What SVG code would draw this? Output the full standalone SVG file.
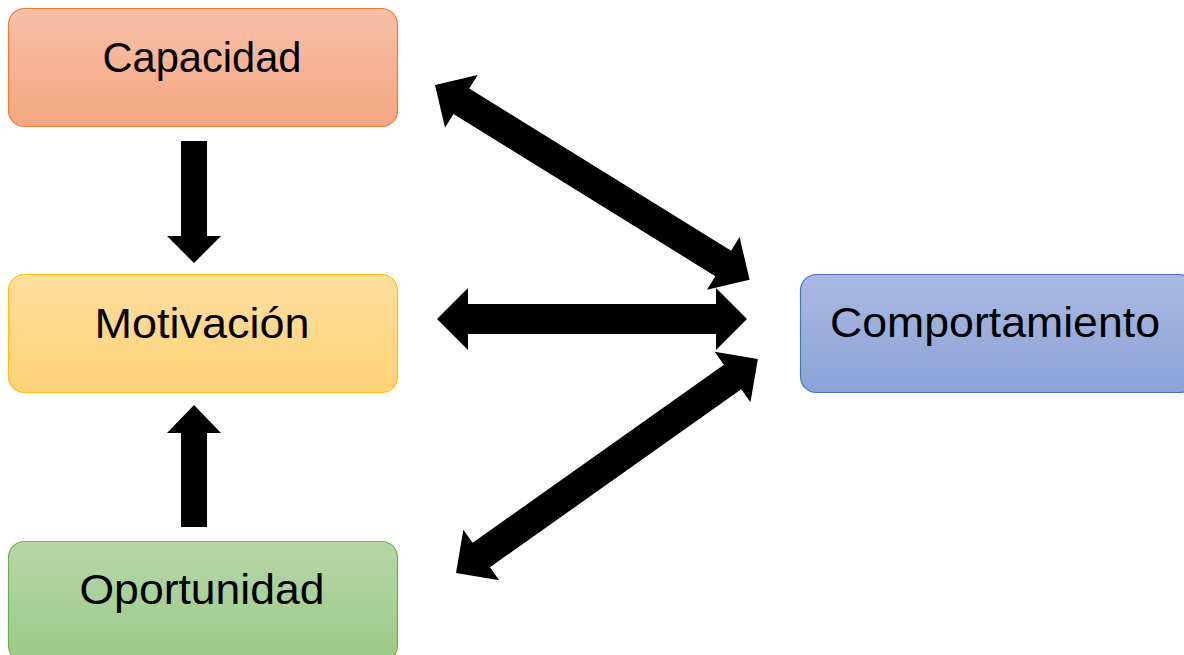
<svg xmlns="http://www.w3.org/2000/svg" width="1184" height="655" viewBox="0 0 1184 655">
<defs>
<linearGradient id="gCap" x1="0" y1="0" x2="0" y2="1"><stop offset="0" stop-color="#F8C0A8"/><stop offset="1" stop-color="#F4A680"/></linearGradient>
<linearGradient id="gMot" x1="0" y1="0" x2="0" y2="1"><stop offset="0" stop-color="#FFDE9C"/><stop offset="1" stop-color="#FFD279"/></linearGradient>
<linearGradient id="gOpo" x1="0" y1="0" x2="0" y2="1"><stop offset="0" stop-color="#B6D7A8"/><stop offset="1" stop-color="#9BCA86"/></linearGradient>
<linearGradient id="gCom" x1="0" y1="0" x2="0" y2="1"><stop offset="0" stop-color="#AAB9E1"/><stop offset="1" stop-color="#8AA3D7"/></linearGradient>
<style>
.lbl{font-family:"Liberation Sans",Arial,sans-serif;font-size:42px;fill:#000;text-anchor:middle}
.arr{fill:#000}
</style>
</defs>
<g id="capacidad"><rect x="8.5" y="8.5" width="389" height="118" rx="16" fill="url(#gCap)" stroke="#ED7D31" stroke-width="1.2"/><text class="lbl" x="202" y="72" textLength="199" lengthAdjust="spacingAndGlyphs">Capacidad</text></g>
<g id="motivacion"><rect x="8.5" y="274.5" width="389" height="118" rx="16" fill="url(#gMot)" stroke="#FFC000" stroke-width="1.2"/><text class="lbl" x="202" y="338" textLength="215" lengthAdjust="spacingAndGlyphs">Motivación</text></g>
<g id="oportunidad"><rect x="8.5" y="541.5" width="389" height="120" rx="16" fill="url(#gOpo)" stroke="#70AD47" stroke-width="1.2"/><text class="lbl" x="202" y="604" textLength="245" lengthAdjust="spacingAndGlyphs">Oportunidad</text></g>
<g id="comportamiento"><rect x="800.5" y="274.5" width="395" height="118" rx="16" fill="url(#gCom)" stroke="#4472C4" stroke-width="1.2"/><text class="lbl" x="995" y="337" textLength="330" lengthAdjust="spacingAndGlyphs">Comportamiento</text></g>
<g id="connectors">
<polygon class="arr" points="181,141 207,141 207,236 221,236 194,263 167,236 181,236"/>
<polygon class="arr" points="181,527 207,527 207,433 221,433 194,405 167,433 181,433"/>
<polygon class="arr" points="0,0 31,-31 31,-15 279,-15 279,-31 310,0 279,31 279,15 31,15 31,31" transform="translate(437,319)"/>
<polygon class="arr" points="0,0 31,-31 31,-15 339,-15 339,-31 370,0 339,31 339,15 31,15 31,31" transform="translate(435,85) rotate(31.76)"/>
<polygon class="arr" points="0,0 31,-31 31,-15 339,-15 339,-31 370,0 339,31 339,15 31,15 31,31" transform="translate(456,573) rotate(-35.33)"/>
</g>
</svg>
